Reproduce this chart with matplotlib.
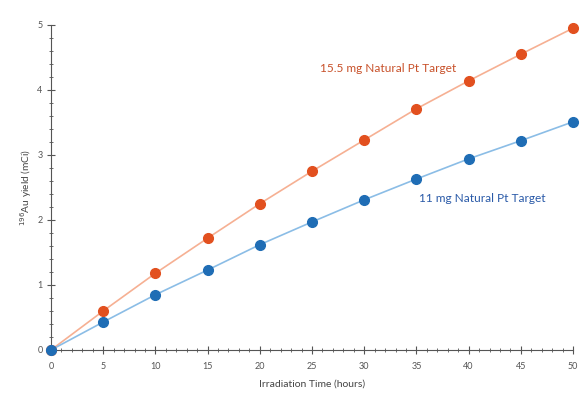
import numpy as np
import matplotlib
matplotlib.use('Agg')
import matplotlib.pyplot as plt
from matplotlib.ticker import MultipleLocator

hours = [0, 5, 10, 15, 20, 25, 30, 35, 40, 45, 50]
yield_155mg = [0, 0.60, 1.18, 1.72, 2.25, 2.75, 3.23, 3.71, 4.14, 4.55, 4.95]
yield_11mg = [0, 0.43, 0.85, 1.23, 1.62, 1.97, 2.31, 2.63, 2.94, 3.22, 3.51]

plt.rcParams['font.family'] = ['Lato', 'DejaVu Sans']

fig = plt.figure(figsize=(5.82, 3.94), dpi=100)
ax = fig.add_axes([0.0876, 0.1117, 0.897, 0.825])

ax.plot(hours, yield_155mg, '-', color='#f6b093', lw=1.2, zorder=2, clip_on=False)
ax.plot(hours, yield_155mg, 'o', color='#e2501f', ms=7, zorder=3, clip_on=False)
ax.plot(hours, yield_11mg, '-', color='#8bbde6', lw=1.2, zorder=2, clip_on=False)
ax.plot(hours, yield_11mg, 'o', color='#1f6db5', ms=7, zorder=3, clip_on=False)

ax.text(25.8, 4.28, '15.5 mg Natural Pt Target', color='#c8512a', fontsize=8.6)
ax.text(35.2, 2.28, '11 mg Natural Pt Target', color='#2a5aa8', fontsize=8.6)

ax.set_xlim(0, 50)
ax.set_ylim(0, 5)
ax.xaxis.set_major_locator(MultipleLocator(5))
ax.xaxis.set_minor_locator(MultipleLocator(1))
ax.yaxis.set_major_locator(MultipleLocator(1))
ax.yaxis.set_minor_locator(MultipleLocator(0.2))

for s in ['top', 'right']:
    ax.spines[s].set_visible(False)
for s in ['left', 'bottom']:
    ax.spines[s].set_color('#555555')
    ax.spines[s].set_linewidth(0.8)

ax.tick_params(which='major', direction='inout', length=6, width=0.8,
               color='#555555', labelsize=6.5, labelcolor='#555555')
ax.tick_params(axis='x', which='major', pad=6)
ax.tick_params(axis='y', which='major', pad=3)
ax.tick_params(which='minor', direction='inout', length=3.5, width=0.6,
               color='#555555')

ax.set_xlabel('Irradiation Time (hours)', fontsize=7.5, color='#444444', labelpad=6)
ax.set_ylabel('$^{196}$Au yield (mCi)', fontsize=7.3, color='#444444')
ax.yaxis.set_label_coords(-0.032, 0.5)

plt.savefig('out.png', dpi=100)
